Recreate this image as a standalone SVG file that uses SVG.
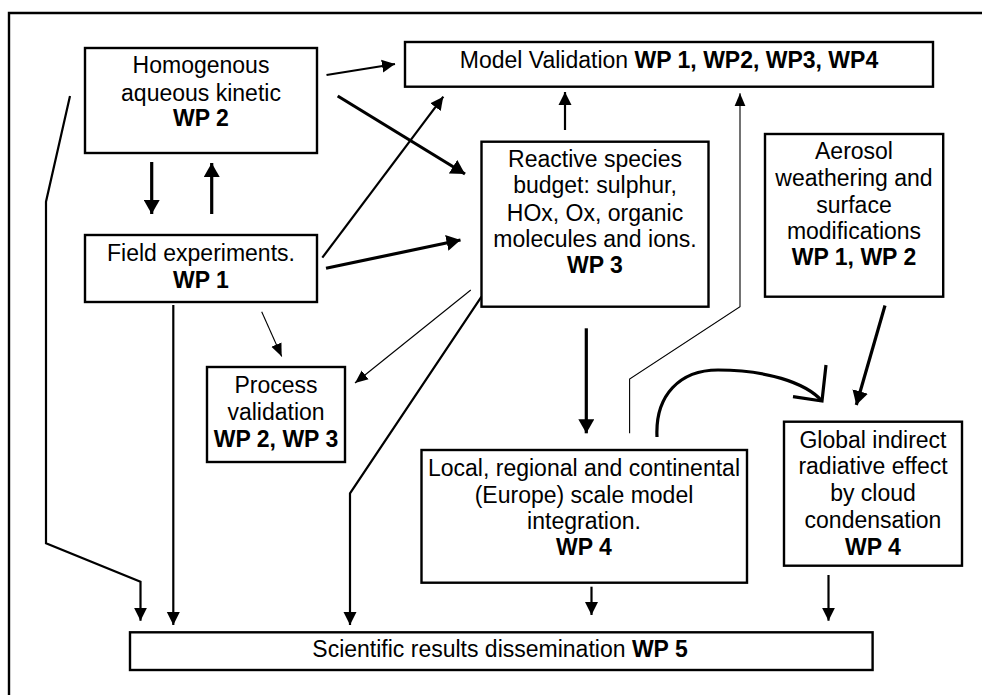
<svg xmlns="http://www.w3.org/2000/svg" width="982" height="695" viewBox="0 0 982 695">
  <defs>
    <style>
      .box { fill: #ffffff; stroke: #000000; stroke-width: 2.4; }
      .lbl { font-family: "Liberation Sans", Arial, sans-serif; font-size: 23px; fill: #000000; text-anchor: middle; }
      .b { font-weight: bold; }
      .thick { fill: none; stroke: #000000; stroke-width: 3.2; }
      .mid { fill: none; stroke: #000000; stroke-width: 2.2; }
      .thin { fill: none; stroke: #000000; stroke-width: 1.1; }
      .frame { fill: none; stroke: #000000; stroke-width: 2.4; }
    </style>
    <marker id="headL" markerUnits="userSpaceOnUse" markerWidth="16" markerHeight="16" refX="14" refY="8" orient="auto">
      <path d="M0,0 L14,8 L0,16 Z" fill="#000000"/>
    </marker>
    <marker id="headM" markerUnits="userSpaceOnUse" markerWidth="14" markerHeight="14" refX="13" refY="7" orient="auto">
      <path d="M0,0.5 L13,7 L0,13.5 Z" fill="#000000"/>
    </marker>
    <marker id="headS" markerUnits="userSpaceOnUse" markerWidth="14" markerHeight="12" refX="13" refY="6" orient="auto">
      <path d="M0,0.5 L13,6 L0,11.5 Z" fill="#000000"/>
    </marker>
  </defs>

  <!-- outer frame (left and top edges) -->
  <path class="frame" d="M9,695 L9,13 L982,13"/>

  <!-- connectors -->
  <g id="connectors">
    <!-- homogenous kinetic <-> field experiments -->
    <line class="thick" x1="151.7" y1="162" x2="151.7" y2="214" marker-end="url(#headL)"/>
    <line class="thick" x1="211.7" y1="214" x2="211.7" y2="163" marker-end="url(#headL)"/>
    <!-- homogenous kinetic -> model validation -->
    <line class="mid" x1="326.5" y1="75" x2="395" y2="64" marker-end="url(#headM)"/>
    <!-- homogenous kinetic -> reactive species -->
    <line class="thick" x1="337.7" y1="96" x2="465" y2="174" marker-end="url(#headL)"/>
    <!-- field experiments -> model validation -->
    <line class="mid" x1="322.3" y1="257.7" x2="443.3" y2="96.7" marker-end="url(#headM)"/>
    <!-- field experiments -> reactive species -->
    <line class="thick" x1="326" y1="268.3" x2="460.5" y2="240" marker-end="url(#headL)"/>
    <!-- field experiments -> process validation -->
    <line class="thin" x1="261.7" y1="311.7" x2="281.7" y2="356.5" marker-end="url(#headS)"/>
    <!-- reactive species -> process validation -->
    <line class="thin" x1="470.8" y1="290" x2="355" y2="383" marker-end="url(#headS)"/>
    <!-- reactive species -> model validation -->
    <line class="mid" x1="565" y1="130" x2="565" y2="92" marker-end="url(#headM)"/>
    <!-- reactive species -> model integration -->
    <line class="thick" x1="586.3" y1="328.3" x2="586.3" y2="433.3" marker-end="url(#headL)"/>
    <!-- model integration -> model validation -->
    <polyline class="thin" points="629.6,433.3 629.6,379 740,306.7 740,93.3" marker-end="url(#headS)"/>
    <!-- model integration -> global indirect effect (curved) -->
    <path class="thick" d="M657,437 C655,395 680,370 718,370 C765,370 805,382 822,401"/>
    <polyline class="thick" points="826,365 822,401 793,396.7"/>
    <!-- aerosol weathering -> global indirect effect -->
    <line class="thick" x1="885" y1="305.5" x2="856.3" y2="405" marker-end="url(#headL)"/>
    <!-- feeds into dissemination -->
    <polyline class="mid" points="70,96 46,201.7 46,543.3 140.5,581.7 140.5,620.7" marker-end="url(#headM)"/>
    <line class="mid" x1="173.3" y1="305" x2="173.3" y2="625" marker-end="url(#headM)"/>
    <polyline class="mid" points="481.5,296.7 350,493.3 350,625" marker-end="url(#headM)"/>
    <line class="mid" x1="591.5" y1="586.7" x2="591.5" y2="615" marker-end="url(#headM)"/>
    <line class="mid" x1="828.5" y1="575" x2="828.5" y2="620.7" marker-end="url(#headM)"/>
  </g>

  <g id="homogenous">
    <rect class="box" x="85" y="48" width="232" height="105"/>
    <text class="lbl" x="201" y="73">Homogenous</text>
    <text class="lbl" x="201" y="100.5">aqueous kinetic</text>
    <text class="lbl b" x="201" y="126">WP 2</text>
  </g>

  <g id="field">
    <rect class="box" x="85" y="235" width="232" height="67"/>
    <text class="lbl" x="201" y="261">Field experiments.</text>
    <text class="lbl b" x="201" y="287.7">WP 1</text>
  </g>

  <g id="process">
    <rect class="box" x="207" y="367" width="138" height="95"/>
    <text class="lbl" x="276" y="392.7">Process</text>
    <text class="lbl" x="276" y="420">validation</text>
    <text class="lbl b" x="276" y="446.7">WP 2, WP 3</text>
  </g>

  <g id="model-validation">
    <rect class="box" x="405" y="42" width="528" height="44.7"/>
    <text class="lbl" x="669" y="68.3">Model Validation <tspan class="b">WP 1, WP2, WP3, WP4</tspan></text>
  </g>

  <g id="reactive">
    <rect class="box" x="481.5" y="141.7" width="227" height="165"/>
    <text class="lbl" x="595" y="166.7">Reactive species</text>
    <text class="lbl" x="595" y="193.3">budget: sulphur,</text>
    <text class="lbl" x="595" y="220.7">HOx, Ox, organic</text>
    <text class="lbl" x="595" y="246.7">molecules and ions.</text>
    <text class="lbl b" x="595" y="272.7">WP 3</text>
  </g>

  <g id="aerosol">
    <rect class="box" x="765" y="134" width="178.2" height="162.7"/>
    <text class="lbl" x="854" y="159.3">Aerosol</text>
    <text class="lbl" x="854" y="186">weathering and</text>
    <text class="lbl" x="854" y="213.3">surface</text>
    <text class="lbl" x="854" y="239.3">modifications</text>
    <text class="lbl b" x="854" y="265">WP 1, WP 2</text>
  </g>

  <g id="model-integration">
    <rect class="box" x="421.5" y="450" width="325.5" height="132.7"/>
    <text class="lbl" x="584" y="476">Local, regional and continental</text>
    <text class="lbl" x="584" y="502.7">(Europe) scale model</text>
    <text class="lbl" x="584" y="529.3">integration.</text>
    <text class="lbl b" x="584" y="555">WP 4</text>
  </g>

  <g id="global-effect">
    <rect class="box" x="784" y="421.7" width="178" height="144"/>
    <text class="lbl" x="873" y="447.7">Global indirect</text>
    <text class="lbl" x="873" y="474.3">radiative effect</text>
    <text class="lbl" x="873" y="501">by cloud</text>
    <text class="lbl" x="873" y="528.3">condensation</text>
    <text class="lbl b" x="873" y="555">WP 4</text>
  </g>

  <g id="dissemination">
    <rect class="box" x="130" y="632.3" width="742.6" height="37.7"/>
    <text class="lbl" x="500" y="656.7">Scientific results dissemination <tspan class="b">WP 5</tspan></text>
  </g>
</svg>
